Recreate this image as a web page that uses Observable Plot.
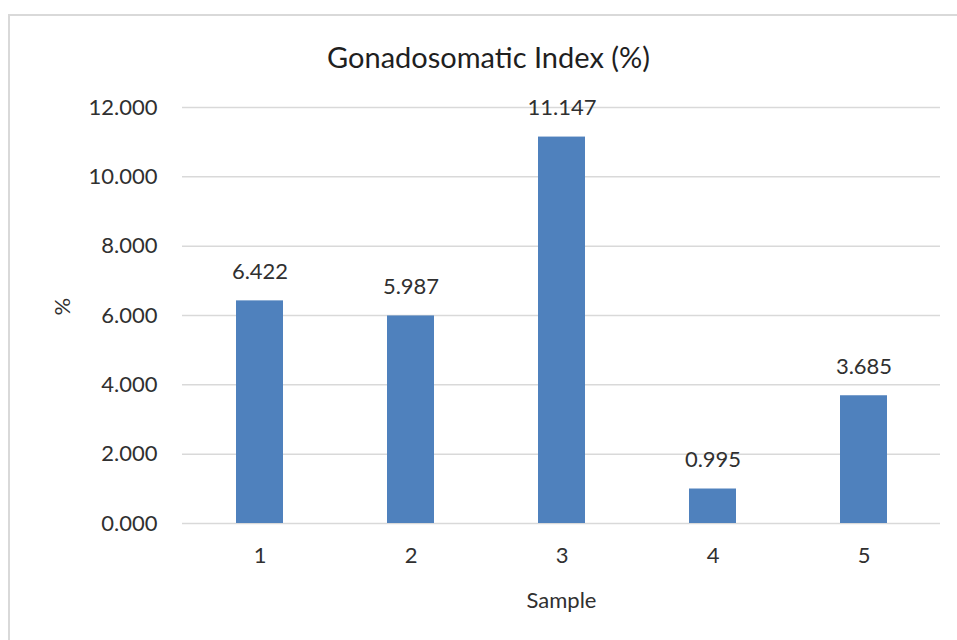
<!DOCTYPE html>
<html><head><meta charset="utf-8">
<script src="https://cdn.jsdelivr.net/npm/d3@7"></script>
<script src="https://cdn.jsdelivr.net/npm/@observablehq/plot@0.6"></script>
<style>
body{margin:0;background:#fff;}
#wrap{position:relative;width:957px;height:640px;overflow:hidden;}
#border{position:absolute;left:8px;top:14px;width:1000px;height:700px;border:2px solid #d9d9d9;box-sizing:border-box;}
#chart{position:absolute;left:0;top:0;}
</style>
</head><body>
<div id="wrap"><div id="border"></div><div id="chart"></div></div>
<script>
const samples = ["1","2","3","4","5"];
const values = [6.422, 5.987, 11.147, 0.995, 3.685];
const yTicks = [0, 2, 4, 6, 8, 10, 12];
const title = "Gonadosomatic Index (%)";
const xLabel = "Sample";
const yLabel = "%";

const data = samples.map((s, i) => ({sample: s, value: values[i]}));
const font = "Lato, 'Open Sans', sans-serif";
const txt = "#303030";
const fs = 22;

const plot = Plot.plot({
  width: 957, height: 640,
  marginLeft: 182, marginRight: 17, marginTop: 107, marginBottom: 117,
  style: {fontFamily: font, fontSize: fs + "px", color: txt, background: "transparent", overflow: "visible"},
  x: {domain: samples, paddingInner: 0.69, paddingOuter: 0.345, label: null},
  y: {domain: [0, 12], ticks: yTicks, label: null, tickFormat: d => d.toFixed(3)},
  marks: [
    Plot.gridY(yTicks, {stroke: "#d9d9d9", strokeOpacity: 1, strokeWidth: 1.5}),
    Plot.axisY(yTicks, {tickSize: 0, tickPadding: 25, tickFormat: d => d.toFixed(3), fill: txt, fontSize: fs, label: null}),
    Plot.axisX({tickSize: 0, tickPadding: 24, fill: txt, fontSize: fs, label: null}),
    Plot.barY(data, {x: "sample", y: "value", fill: "#4f81bd"}),
    Plot.text(data, {x: "sample", y: "value", text: d => d.value.toFixed(3), dy: -29, fill: txt, fontSize: fs}),
    Plot.text([title], {frameAnchor: "top", lineAnchor: "middle", dx: -73, dy: -49, text: d => d, fontSize: 29, fill: "#1f1f1f"}),
    Plot.text([xLabel], {frameAnchor: "bottom", lineAnchor: "middle", dy: 77, text: d => d, fontSize: fs, fill: txt}),
    Plot.text([yLabel], {frameAnchor: "left", dx: -120, rotate: -90, text: d => d, fontSize: fs, fill: txt})
  ]
});
document.getElementById("chart").appendChild(plot);
</script>
</body></html>
